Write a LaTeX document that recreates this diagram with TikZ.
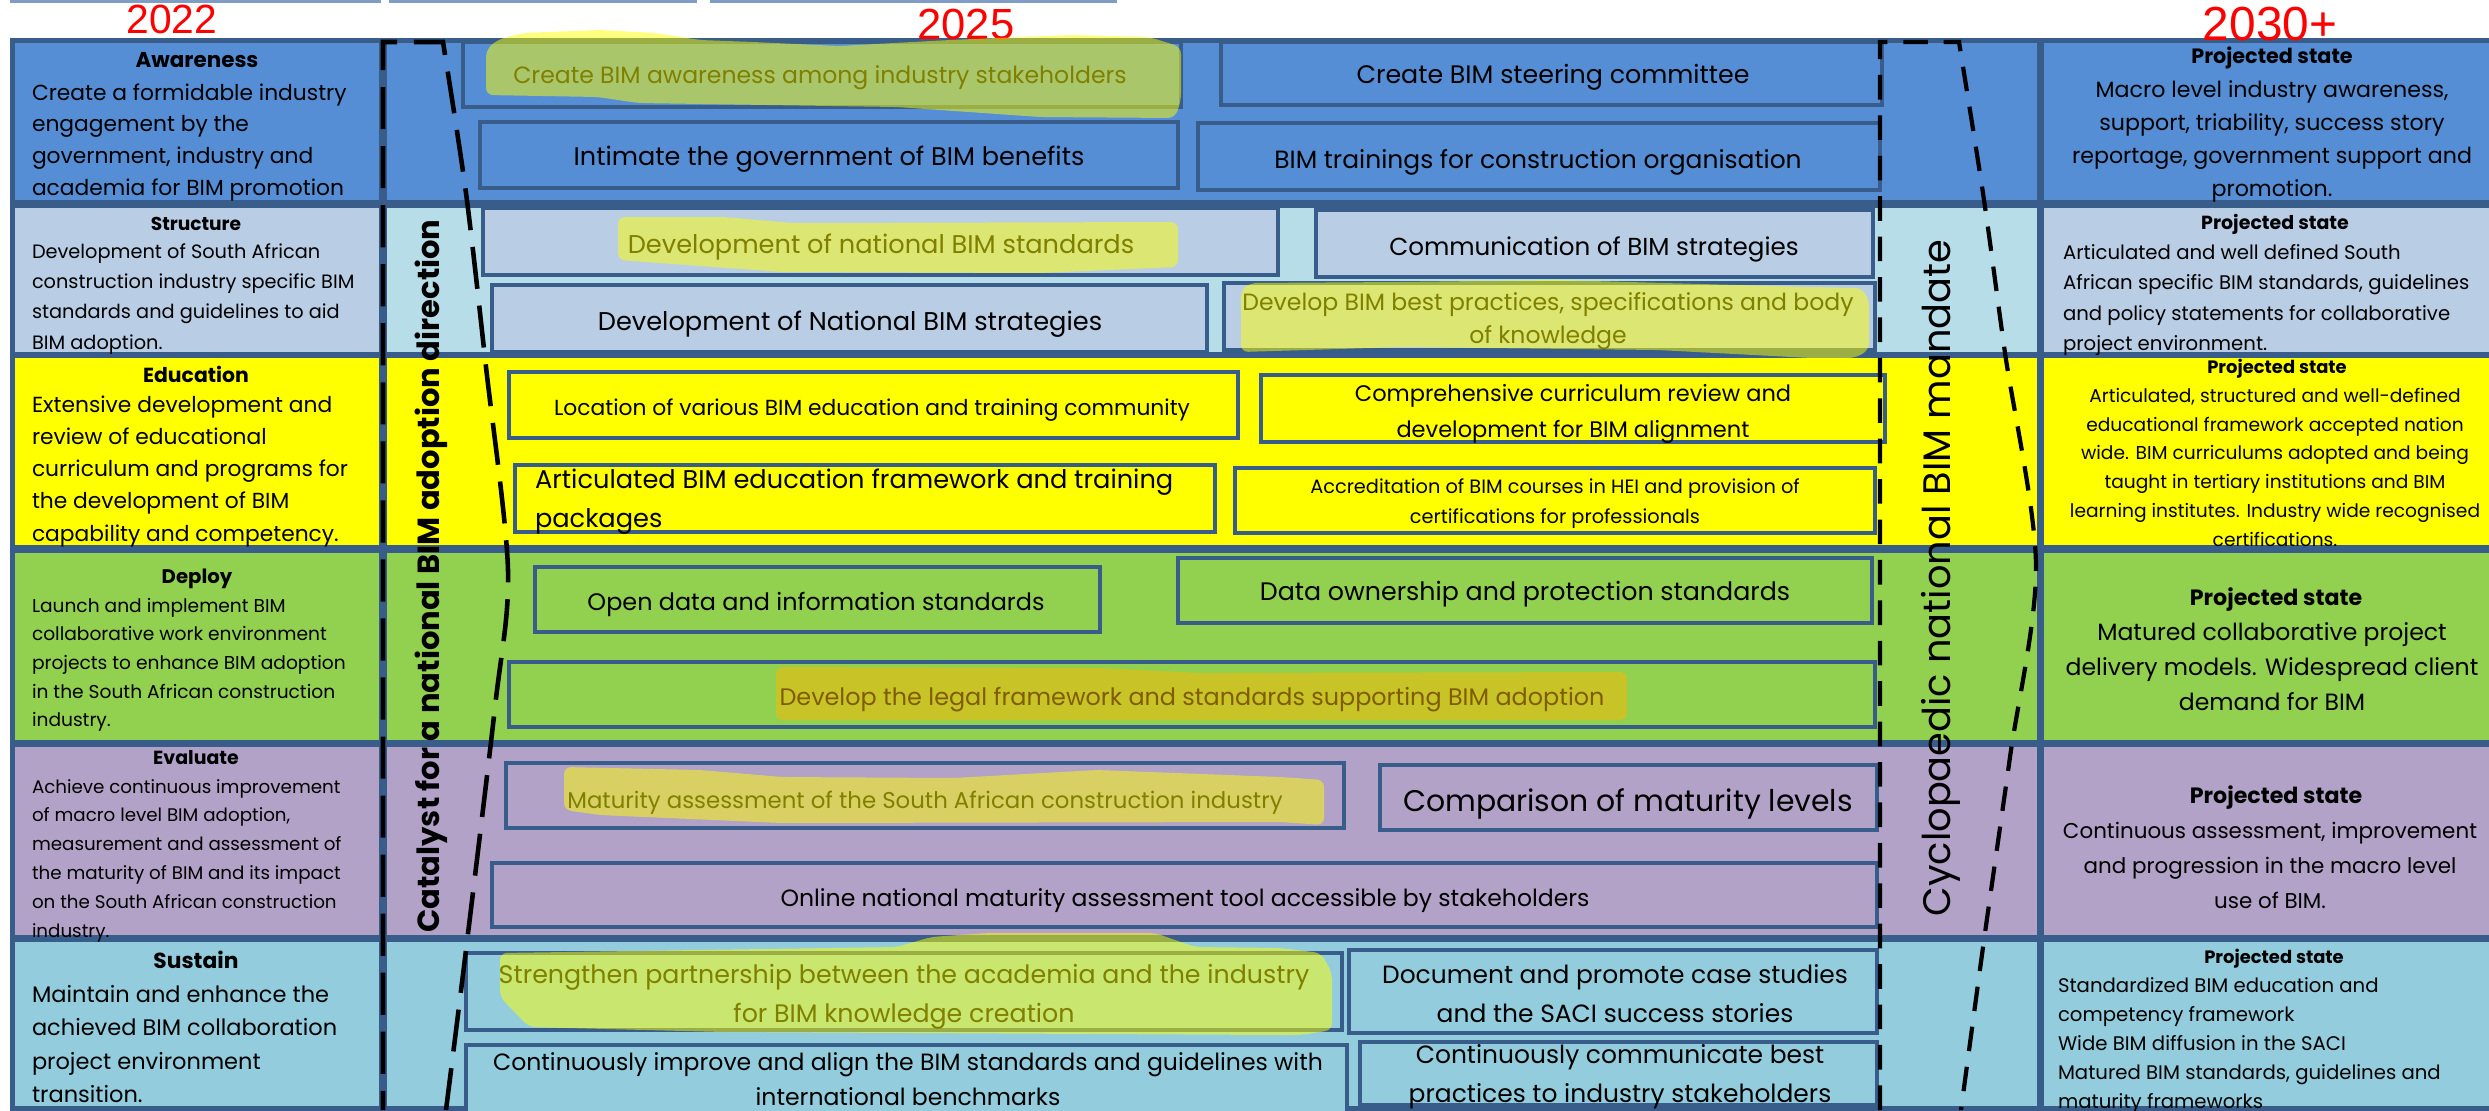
\documentclass[tikz,border=0pt]{standalone}
\usepackage{fontspec}
\setmainfont{Poppins}
\newfontfamily\yf{Liberation Sans}
\newcommand\fsz[2]{\fontsize{#1pt}{#2pt}\selectfont}
\newcommand\mlines[2]{\begin{tabular}[t]{@{}#1@{}}#2\end{tabular}}
\definecolor{bord}{HTML}{385D8A}
\definecolor{rA}{HTML}{558ED5}
\definecolor{rBl}{HTML}{B9CDE5}
\definecolor{rBm}{HTML}{B7DEE8}
\definecolor{rC}{HTML}{FFFF00}
\definecolor{rD}{HTML}{92D050}
\definecolor{rE}{HTML}{B3A2C7}
\definecolor{rF}{HTML}{93CDDD}
\definecolor{hl}{HTML}{FFFF00}
\definecolor{hlo}{HTML}{FFB800}
\definecolor{topl}{HTML}{7F9CC4}
\begin{document}
\begin{tikzpicture}[x=0.1mm,y=-0.1mm,
  txt/.style={anchor=base,inner sep=0pt,outer sep=0pt},
  mb/.style={draw=bord,line width=1.14pt},
  hlA/.style={fill=hl,fill opacity=0.5,rounded corners=2pt},
  hlB/.style={fill=hlo,fill opacity=0.5,rounded corners=2pt},
  dshL/.style={black,line width=1.3pt,dash pattern=on 12pt off 4.8pt},
  dshR/.style={black,line width=1.2pt,dash pattern=on 7pt off 4.5pt},
  yr/.style={anchor=base,text=red,inner sep=0pt}]
\useasboundingbox (0,0) rectangle (2489,1110);
\fill[white] (0,0) rectangle (2489,1110);
% thin lines at the very top
\draw[topl,line width=0.9pt] (10,1) -- (381,1);
\draw[topl,line width=0.9pt] (389,1) -- (697,1);
\draw[topl,line width=0.9pt] (710,1) -- (1117,1);
% frame
\fill[bord] (10,38) rectangle (2500,1112);
% row cells
\fill[rA] (15,43) rectangle (379,200);
\fill[rA] (387,43) rectangle (2037,200);
\fill[rA] (2044,43) rectangle (2500,200);
\fill[rBl] (15,208) rectangle (379,352);
\fill[rBm] (387,208) rectangle (2037,352);
\fill[rBl] (2044,208) rectangle (2500,352);
\fill[rC] (15,358) rectangle (379,545);
\fill[rC] (387,358) rectangle (2037,545);
\fill[rC] (2044,358) rectangle (2500,545);
\fill[rD] (15,553) rectangle (379,740);
\fill[rD] (387,553) rectangle (2037,740);
\fill[rD] (2044,553) rectangle (2500,740);
\fill[rE] (15,747) rectangle (379,935);
\fill[rE] (387,747) rectangle (2037,935);
\fill[rE] (2044,747) rectangle (2500,935);
\fill[rF] (15,942) rectangle (379,1106);
\fill[rF] (387,942) rectangle (2037,1106);
\fill[rF] (2044,942) rectangle (2500,1106);
% middle boxes
\path[mb,fill=rA] (463,42) rectangle (1181,107);
\path[mb,fill=rA] (1221,42) rectangle (1882,105);
\path[mb,fill=rA] (480,122) rectangle (1178,188);
\path[mb,fill=rA] (1198,123) rectangle (1880,190);
\path[mb,fill=rBl] (483,208) rectangle (1278,275);
\path[mb,fill=rBl] (1316,210) rectangle (1873,277);
\path[mb,fill=rBl] (492,285) rectangle (1207,352);
\path[mb,fill=rBl] (1224,283) rectangle (1875,350);
\path[mb,fill=rC] (509,372) rectangle (1238,438);
\path[mb,fill=rC] (1261,375) rectangle (1885,442);
\path[mb,fill=rC] (515,465) rectangle (1215,532);
\path[mb,fill=rC] (1235,468) rectangle (1875,533);
\path[mb,fill=rD] (535,567) rectangle (1100,632);
\path[mb,fill=rD] (1178,558) rectangle (1872,623);
\path[mb,fill=rD] (509,662) rectangle (1875,727);
\path[mb,fill=rE] (506,763) rectangle (1344,828);
\path[mb,fill=rE] (1380,765) rectangle (1877,830);
\path[mb,fill=rE] (492,863) rectangle (1877,927);
\path[mb,fill=rF] (466,953) rectangle (1342,1030);
\path[mb,fill=rF] (1349,950) rectangle (1877,1033);
\path[mb,fill=rF] (466,1045) rectangle (1347,1115);
\path[mb,fill=rF] (1360,1042) rectangle (1877,1105);
% left column texts
\node[txt,font=\bfseries\fsz{6.1}{8}] (h1) at (197,67) {Awareness};
\node[txt,anchor=base west,font=\fsz{6.2}{9.1}] (l1) at (32,100) {\mlines{l}{Create a formidable industry\\engagement by the\\government, industry and\\academia for BIM promotion}};
\node[txt,font=\bfseries\fsz{5.3}{7}] (h2) at (196,230) {Structure};
\node[txt,anchor=base west,font=\fsz{5.5}{8.65}] (l2) at (32,258) {\mlines{l}{Development of South African\\construction industry specific BIM\\standards and guidelines to aid\\BIM adoption.}};
\node[txt,font=\bfseries\fsz{5.8}{7}] (h3) at (196,382) {Education};
\node[txt,anchor=base west,font=\fsz{6.2}{9.19}] (l3) at (32,412) {\mlines{l}{Extensive development and\\review of educational\\curriculum and programs for\\the development of BIM\\capability and competency.}};
\node[txt,font=\bfseries\fsz{5.6}{7}] (h4) at (197,583) {Deploy};
\node[txt,anchor=base west,font=\fsz{5.3}{8.17}] (l4) at (32,612) {\mlines{l}{Launch and implement BIM\\collaborative work environment\\projects to enhance BIM adoption\\in the South African construction\\industry.}};
\node[txt,font=\bfseries\fsz{5.4}{7}] (h5) at (196,764) {Evaluate};
\node[txt,anchor=base west,font=\fsz{5.2}{8.2}] (l5) at (32,793) {\mlines{l}{Achieve continuous improvement\\of macro level BIM adoption,\\measurement and assessment of\\the maturity of BIM and its impact\\on the South African construction\\industry.}};
\node[txt,font=\bfseries\fsz{6.2}{8}] (h6) at (196,968) {Sustain};
\node[txt,anchor=base west,font=\fsz{6.4}{9.53}] (l6) at (32,1002) {\mlines{l}{Maintain and enhance the\\achieved BIM collaboration\\project environment\\transition.}};
% right column texts
\node[txt,font=\bfseries\fsz{5.9}{7}] (p1) at (2272,63) {Projected state};
\node[txt,font=\fsz{6.3}{9.4}] (r1) at (2272,97) {\mlines{c}{Macro level industry awareness,\\support, triability, success story\\reportage, government support and\\promotion.}};
\node[txt,font=\bfseries\fsz{5.4}{7}] (p2) at (2275,229) {Projected state};
\node[txt,anchor=base west,font=\fsz{5.6}{8.68}] (r2) at (2063,259) {\mlines{l}{Articulated and well defined South\\African specific BIM standards, guidelines\\and policy statements for collaborative\\project environment.}};
\node[txt,font=\bfseries\fsz{5.1}{7}] (p3) at (2277,373) {Projected state};
\node[txt,font=\fsz{5.3}{8.25}] (r3) at (2275,402) {\mlines{c}{Articulated, structured and well-defined\\educational framework accepted nation\\wide. BIM curriculums adopted and being\\taught in tertiary institutions and BIM\\learning institutes. Industry wide recognised\\certifications.}};
\node[txt,font=\bfseries\fsz{6.3}{8}] (p4) at (2276,605) {Projected state};
\node[txt,font=\fsz{6.7}{9.96}] (r4) at (2272,640) {\mlines{c}{Matured collaborative project\\delivery models. Widespread client\\demand for BIM}};
\node[txt,font=\bfseries\fsz{6.3}{8}] (p5) at (2276,803) {Projected state};
\node[txt,font=\fsz{6.1}{9.96}] (r5) at (2270,838) {\mlines{c}{Continuous assessment, improvement\\and progression in the macro level\\use of BIM.}};
\node[txt,font=\bfseries\fsz{5.1}{7}] (p6) at (2274,963) {Projected state};
\node[txt,anchor=base west,font=\fsz{5.6}{8.25}] (r6) at (2058,992) {\mlines{l}{Standardized BIM education and\\competency framework\\Wide BIM diffusion in the SACI\\Matured BIM standards, guidelines and\\maturity frameworks}};
% middle texts
\node[txt,font=\fsz{6.7}{8}] (ta1) at (820,83) {Create BIM awareness among industry stakeholders};
\node[txt,font=\fsz{7.2}{8}] (ta2) at (1553,83) {Create BIM steering committee};
\node[txt,font=\fsz{7.26}{8}] (ta3) at (829,165) {Intimate the government of BIM benefits};
\node[txt,font=\fsz{7.1}{8}] (ta4) at (1538,168) {BIM trainings for construction organisation};
\node[txt,font=\fsz{7.3}{8}] (tb1) at (881,253) {Development of national BIM standards};
\node[txt,font=\fsz{7.0}{8}] (tb2) at (1594,255) {Communication of BIM strategies};
\node[txt,font=\fsz{7.3}{8}] (tb3) at (850,330) {Development of National BIM strategies};
\node[txt,font=\fsz{6.7}{9.39}] (tb4) at (1548,310) {\mlines{c}{Develop BIM best practices, specifications and body\\of knowledge}};
\node[txt,font=\fsz{6.2}{8}] (tc1) at (872,415) {Location of various BIM education and training community};
\node[txt,font=\fsz{6.4}{10.5}] (tc2) at (1573,401) {\mlines{c}{Comprehensive curriculum review and\\development for BIM alignment}};
\node[txt,anchor=base west,font=\fsz{7.3}{11.1}] (tc3) at (535,488) {\mlines{l}{Articulated BIM education framework and training\\packages}};
\node[txt,font=\fsz{5.5}{8.54}] (tc4) at (1555,493) {\mlines{c}{Accreditation of BIM courses in HEI and provision of\\certifications for professionals}};
\node[txt,font=\fsz{6.8}{8}] (td1) at (816,610) {Open data and information standards};
\node[txt,font=\fsz{7.2}{8}] (td2) at (1525,600) {Data ownership and protection standards};
\node[txt,font=\fsz{6.8}{8}] (td3) at (1192,705) {Develop the legal framework and standards supporting BIM adoption};
\node[txt,font=\fsz{6.5}{8}] (te1) at (925,808) {Maturity assessment of the South African construction industry};
\node[txt,font=\fsz{8.5}{10}] (te2) at (1628,811) {Comparison of maturity levels};
\node[txt,font=\fsz{6.7}{8}] (te3) at (1185,906) {Online national maturity assessment tool accessible by stakeholders};
\node[txt,font=\fsz{7.2}{11.1}] (tf1) at (904,983) {\mlines{c}{Strengthen partnership between the academia and the industry\\for BIM knowledge creation}};
\node[txt,font=\fsz{7.1}{11.1}] (tf2) at (1615,983) {\mlines{c}{Document and promote case studies\\and the SACI success stories}};
\node[txt,font=\fsz{6.7}{9.96}] (tf3) at (908,1070) {\mlines{c}{Continuously improve and align the BIM standards and guidelines with\\international benchmarks}};
\node[txt,font=\fsz{7.1}{11.1}] (tf4) at (1620,1063) {\mlines{c}{Continuously communicate best\\practices to industry stakeholders}};
% years
\node[yr,font=\yf\fsz{11.6}{13}] (y22) at (172,33) {2022};
\node[yr,font=\yf\fsz{12.4}{14}] (y25) at (966,39) {2025};
\node[yr,font=\yf\fsz{13.6}{15}] (y30) at (2270,40) {2030+};
% highlighter strokes
\fill[hlA] (486,50) -- (497,40) -- (523,33) -- (600,30) -- (655,33) -- (700,40) -- (753,42) -- (839,46) -- (950,40) -- (1069,35) -- (1149,37) -- (1181,47) -- (1181,100) -- (1175,118) -- (1040,117) -- (897,107) -- (638,103) -- (598,97) -- (486,95) -- cycle;
\fill[hlA] (618,217) -- (724,217) -- (793,223) -- (1178,222) -- (1178,267) -- (1040,273) -- (782,272) -- (700,266) -- (618,260) -- cycle;
\fill[hlA] (1241,290) -- (1250,283) -- (1400,282) -- (1556,280) -- (1700,284) -- (1811,287) -- (1862,288) -- (1869,300) -- (1869,350) -- (1855,358) -- (1811,358) -- (1658,350) -- (1403,347) -- (1241,352) -- cycle;
\fill[hlB] (776,667) -- (1100,668) -- (1200,673) -- (1627,672) -- (1627,720) -- (776,720) -- cycle;
\fill[hlA] (564,767) -- (700,770) -- (782,777) -- (954,778) -- (1097,770) -- (1280,777) -- (1324,780) -- (1324,825) -- (1280,822) -- (782,823) -- (600,815) -- (564,810) -- cycle;
\fill[hlA] (500,953) -- (897,947) -- (931,937) -- (988,933) -- (1155,933) -- (1195,947) -- (1280,948) -- (1321,953) -- (1332,973) -- (1332,1030) -- (1301,1035) -- (1280,1035) -- (724,1032) -- (529,1027) -- (500,997) -- cycle;
% dashed brackets
\draw[dshL] plot[smooth] coordinates {(446,1110) (466,950) (495,707) (508,570) (486,367) (466,193) (443,42)} -- (383,42) -- (383,1110);
\draw[dshR] (1880,1110) -- (1880,42) -- (1959,42) -- plot[smooth] coordinates {(1959,42) (1984,200) (2005,353) (2036,565) (2010,757) (1984,940) (1961,1110)};
% vertical labels
\node[rotate=90,inner sep=0pt,font=\bfseries\fsz{8.7}{10}] (cat) at (431,576) {Catalyst for a national BIM adoption direction};
\node[rotate=90,inner sep=0pt,font=\fsz{10.9}{12}] (cyc) at (1941,578) {Cyclopaedic national BIM mandate};
\end{tikzpicture}
\end{document}
